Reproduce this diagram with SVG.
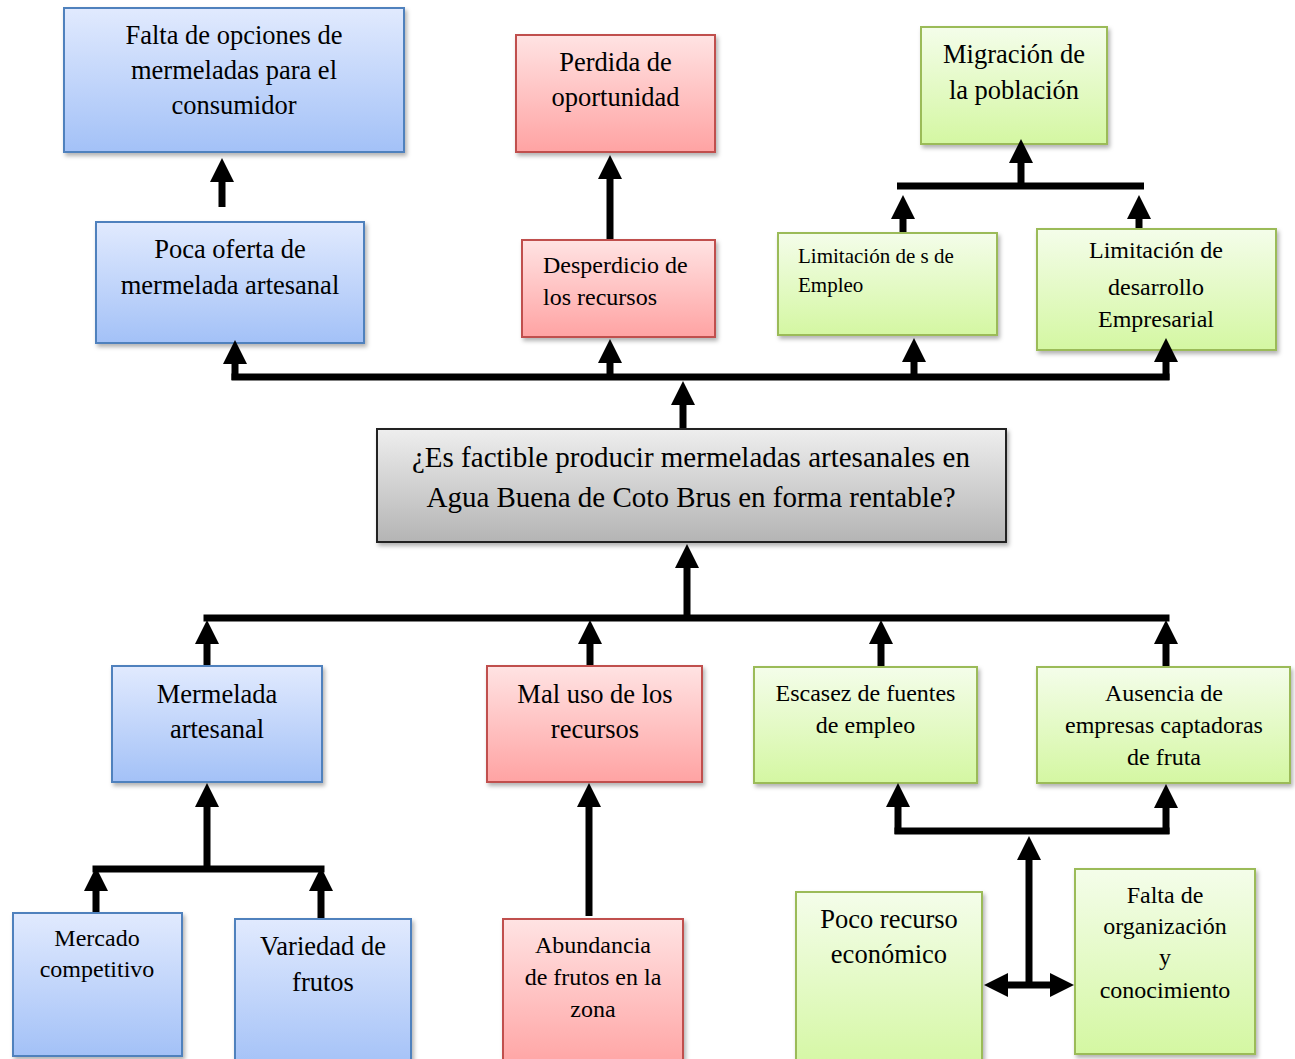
<svg xmlns="http://www.w3.org/2000/svg" width="1295" height="1059" viewBox="0 0 1295 1059">
<defs>
<linearGradient id="gBlue" x1="0" y1="0" x2="0" y2="1"><stop offset="0" stop-color="#e1eafe"/><stop offset="1" stop-color="#a3c1f7"/></linearGradient>
<linearGradient id="gRed" x1="0" y1="0" x2="0" y2="1"><stop offset="0" stop-color="#ffe3e3"/><stop offset="1" stop-color="#ffa3a3"/></linearGradient>
<linearGradient id="gGreen" x1="0" y1="0" x2="0" y2="1"><stop offset="0" stop-color="#f4fdea"/><stop offset="1" stop-color="#d4f7a2"/></linearGradient>
<linearGradient id="gGray" x1="0" y1="0" x2="0" y2="1"><stop offset="0" stop-color="#eeeeee"/><stop offset="1" stop-color="#b4b4b4"/></linearGradient>
<filter id="sh" x="-10%" y="-10%" width="130%" height="130%"><feDropShadow dx="2" dy="3" stdDeviation="2" flood-color="#000" flood-opacity="0.3"/></filter>
<marker id="ah" markerUnits="userSpaceOnUse" viewBox="0 0 24 24" markerWidth="24" markerHeight="24" refX="1" refY="12" orient="auto-start-reverse"><path d="M0,0 L24,12 L0,24 z" fill="#000"/></marker>
<style>
.blue{fill:url(#gBlue);stroke:#4f81bd;stroke-width:2;filter:url(#sh)}
.red{fill:url(#gRed);stroke:#c0504d;stroke-width:2;filter:url(#sh)}
.green{fill:url(#gGreen);stroke:#9bbb59;stroke-width:2;filter:url(#sh)}
.gray{fill:url(#gGray);stroke:#222;stroke-width:2;filter:url(#sh)}
text{font-family:"Liberation Serif","Times New Roman",serif;fill:#000}
.c{text-anchor:middle}
.f26{font-size:26.5px}
.f24{font-size:24px}
.f21{font-size:21px}
.f29{font-size:29px}
.ln{stroke:#000;stroke-width:7;fill:none}
.ar{stroke:#000;stroke-width:7;fill:none;marker-end:url(#ah)}
.ar2{stroke:#000;stroke-width:7;fill:none;marker-start:url(#ah);marker-end:url(#ah)}
</style>
</defs>
<g id="n1"><rect class="blue" x="64" y="8" width="340" height="144"/><text class="c f26" x="234" y="43.5">Falta de opciones de</text><text class="c f26" x="234" y="78.5">mermeladas para el</text><text class="c f26" x="234" y="113.5">consumidor</text></g>
<g id="n2"><rect class="blue" x="96" y="222" width="268" height="121"/><text class="c f26" x="230" y="257.5">Poca oferta de</text><text class="c f26" x="230" y="293.5">mermelada artesanal</text></g>
<g id="n3"><rect class="red" x="516" y="35" width="199" height="117"/><text class="c f26" x="615.5" y="71">Perdida de</text><text class="c f26" x="615.5" y="106">oportunidad</text></g>
<g id="n4"><rect class="red" x="522" y="240" width="193" height="97"/><text class="f24" x="543" y="273">Desperdicio de</text><text class="f24" x="543" y="305">los recursos</text></g>
<g id="n5"><rect class="green" x="921" y="27" width="186" height="117"/><text class="c f26" x="1014" y="62.5">Migración de</text><text class="c f26" x="1014" y="98.5">la población</text></g>
<g id="n6"><rect class="green" x="778" y="233" width="219" height="102"/><text class="f21" x="798" y="263">Limitación de s de</text><text class="f21" x="798" y="292">Empleo</text></g>
<g id="n7"><rect class="green" x="1037" y="229" width="239" height="121"/><text class="c f24" x="1156" y="258">Limitación de</text><text class="c f24" x="1156" y="295">desarrollo</text><text class="c f24" x="1156" y="327">Empresarial</text></g>
<g id="n8"><rect class="gray" x="377" y="429" width="629" height="113"/><text class="c f29" x="691" y="467">¿Es factible producir mermeladas artesanales en</text><text class="c f29" x="691" y="506.5">Agua Buena de Coto Brus en forma rentable?</text></g>
<g id="n9"><rect class="blue" x="112" y="666" width="210" height="116"/><text class="c f26" x="217" y="702.5">Mermelada</text><text class="c f26" x="217" y="737.5">artesanal</text></g>
<g id="n10"><rect class="red" x="487" y="666" width="215" height="116"/><text class="c f26" x="595" y="702.5">Mal uso de los</text><text class="c f26" x="595" y="737.5">recursos</text></g>
<g id="n11"><rect class="green" x="754" y="667" width="223" height="116"/><text class="c f24" x="865.5" y="700.5">Escasez de fuentes</text><text class="c f24" x="865.5" y="732.5">de empleo</text></g>
<g id="n12"><rect class="green" x="1037" y="667" width="253" height="116"/><text class="c f24" x="1164" y="700.5">Ausencia de</text><text class="c f24" x="1164" y="732.5">empresas captadoras</text><text class="c f24" x="1164" y="764.5">de fruta</text></g>
<g id="n13"><rect class="blue" x="13" y="913" width="169" height="143"/><text class="c f24" x="97" y="945.5">Mercado</text><text class="c f24" x="97" y="977">competitivo</text></g>
<g id="n14"><rect class="blue" x="235" y="919" width="176" height="150"/><text class="c f26" x="323" y="955">Variedad de</text><text class="c f26" x="323" y="991">frutos</text></g>
<g id="n15"><rect class="red" x="503" y="919" width="180" height="150"/><text class="c f24" x="593" y="953">Abundancia</text><text class="c f24" x="593" y="985">de frutos en la</text><text class="c f24" x="593" y="1017">zona</text></g>
<g id="n16"><rect class="green" x="796" y="892" width="186" height="180"/><text class="c f26" x="889" y="928">Poco recurso</text><text class="c f26" x="889" y="963">económico</text></g>
<g id="n17"><rect class="green" x="1075" y="869" width="180" height="185"/><text class="c f24" x="1165" y="903">Falta de</text><text class="c f24" x="1165" y="934">organización</text><text class="c f24" x="1165" y="965">y</text><text class="c f24" x="1165" y="998">conocimiento</text></g>
<g id="connectors">
<line class="ar" x1="222" y1="207" x2="222" y2="181"/>
<line class="ar" x1="610" y1="239" x2="610" y2="178"/>
<line class="ln" x1="231.5" y1="377" x2="1169.5" y2="377"/>
<line class="ar" x1="235" y1="380" x2="235" y2="363"/>
<line class="ar" x1="610" y1="380" x2="610" y2="362"/>
<line class="ar" x1="914" y1="380" x2="914" y2="361"/>
<line class="ar" x1="1166" y1="380" x2="1166" y2="361"/>
<line class="ar" x1="683" y1="428" x2="683" y2="404"/>
<line class="ln" x1="897" y1="186" x2="1144" y2="186"/>
<line class="ar" x1="1021" y1="186" x2="1021" y2="162"/>
<line class="ar" x1="903" y1="232" x2="903" y2="218"/>
<line class="ar" x1="1139" y1="228" x2="1139" y2="218"/>
<line class="ar" x1="687" y1="618" x2="687" y2="567"/>
<line class="ln" x1="203.5" y1="618" x2="1169.5" y2="618"/>
<line class="ar" x1="207" y1="665" x2="207" y2="643"/>
<line class="ar" x1="590" y1="665" x2="590" y2="643"/>
<line class="ar" x1="881" y1="666" x2="881" y2="643"/>
<line class="ar" x1="1166" y1="666" x2="1166" y2="643"/>
<line class="ar" x1="207" y1="869" x2="207" y2="806"/>
<line class="ln" x1="92.5" y1="869" x2="324.5" y2="869"/>
<line class="ar" x1="96" y1="912" x2="96" y2="890"/>
<line class="ar" x1="321" y1="918" x2="321" y2="890"/>
<line class="ar" x1="589" y1="916" x2="589" y2="806"/>
<line class="ln" x1="894.5" y1="831" x2="1169.5" y2="831"/>
<line class="ar" x1="898" y1="834" x2="898" y2="806"/>
<line class="ar" x1="1166" y1="834" x2="1166" y2="807"/>
<line class="ar" x1="1029" y1="985" x2="1029" y2="859"/>
<line class="ar2" x1="1007" y1="985" x2="1051" y2="985"/>
</g>
</svg>
